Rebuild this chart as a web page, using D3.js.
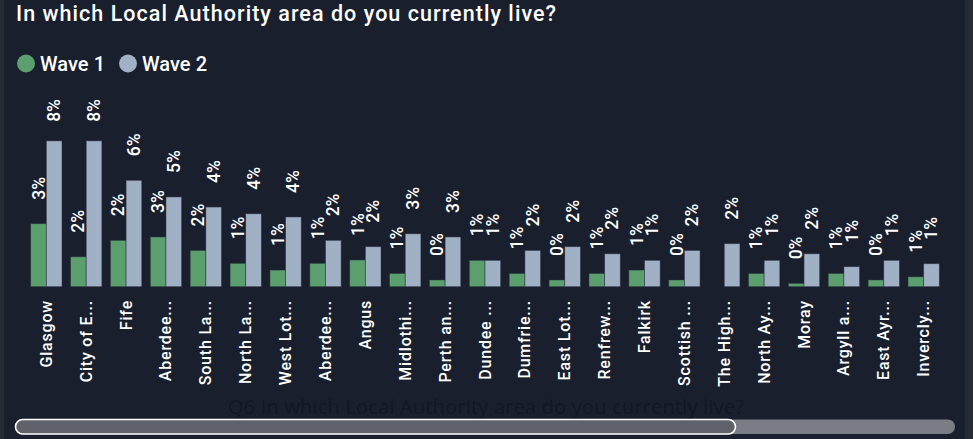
<!DOCTYPE html>
<html><head><meta charset="utf-8">
<script src="https://cdn.jsdelivr.net/npm/d3@7"></script>
<style>
html,body{margin:0;padding:0;background:#1a1f2e;overflow:hidden;}
svg{display:block;}
</style></head>
<body>
<svg id="chart" width="973" height="439"></svg>
<script>
const title = "In which Local Authority area do you currently live?";
const axisTitle = "Q6 In which Local Authority area do you currently live?";
const categories = ["Glasgow","City of Edinburgh","Fife","Aberdeen City","South Lanarkshire","North Lanarkshire","West Lothian","Aberdeenshire","Angus","Midlothian","Perth and Kinross","Dundee City","Dumfries and Galloway","East Lothian","Renfrewshire","Falkirk","Scottish Borders","The Highlands","North Ayrshire","Moray","Argyll and Bute","East Ayrshire","Inverclyde"];
const tickLabels = ["Glasgow","City of E...","Fife","Aberdee...","South La...","North La...","West Lot...","Aberdee...","Angus","Midlothi...","Perth an...","Dundee ...","Dumfrie...","East Lot...","Renfrew...","Falkirk","Scottish ...","The High...","North Ay...","Moray","Argyll a...","East Ayr...","Invercly..."];
const seriesNames = ["Wave 1","Wave 2"];
const wave1 = [3.37,1.6,2.48,2.66,1.94,1.25,0.89,1.25,1.43,0.71,0.36,1.41,0.71,0.36,0.71,0.89,0.36,null,0.71,0.18,0.71,0.36,0.53];
const wave2 = [7.8,7.8,5.69,4.8,4.26,3.9,3.73,2.48,2.14,2.83,2.66,1.41,1.94,2.14,1.76,1.41,1.94,2.3,1.41,1.76,1.07,1.41,1.23];
const colors = ["#5b9f6f","#a0b0c5"];

const svg = d3.select("#chart");
const W = 973, H = 439;

// side strips
svg.append("rect").attr("x",0).attr("y",0).attr("width",4).attr("height",H).attr("fill","#262a35");
svg.append("rect").attr("x",965).attr("y",0).attr("width",8).attr("height",H).attr("fill","#262a34");

// title
svg.append("text").attr("x",16).attr("y",20.5)
  .attr("font-family","Roboto, sans-serif").attr("font-size",21.5).attr("font-weight",500)
  .attr("textLength",540).attr("lengthAdjust","spacing")
  .attr("fill","#ffffff").text(title);

// legend
const legend = svg.append("g");
const legX = [26,128];
seriesNames.forEach((s,i)=>{
  legend.append("circle").attr("cx",legX[i]).attr("cy",63.5).attr("r",9).attr("fill",colors[i]);
  legend.append("text").attr("x",legX[i]+14).attr("y",70.5)
    .attr("font-family","Roboto, sans-serif").attr("font-size",20).attr("font-weight",500)
    .attr("textLength",65).attr("lengthAdjust","spacing")
    .attr("fill","#ffffff").text(s);
});

// scales
const x = d3.scaleBand().domain(categories).range([26.4,943.6]).paddingInner(0.215).paddingOuter(0.1075);
const xs = d3.scaleBand().domain(seriesNames).range([0,x.bandwidth()]);
const y = d3.scaleLinear().domain([0,8]).range([286.7,137.1]);

const data = categories.map((c,i)=>({cat:c, vals:[wave1[i],wave2[i]]}));

const groups = svg.append("g").selectAll("g").data(data).join("g")
  .attr("transform",d=>`translate(${x(d.cat)},0)`);

groups.selectAll("rect").data(d=>d.vals.map((v,i)=>({v,s:seriesNames[i],i}))).join("rect")
  .filter(d=>d.v!==null)
  .attr("x",d=>xs(d.s)).attr("width",xs.bandwidth())
  .attr("y",d=>y(d.v)).attr("height",d=>y(0)-y(d.v))
  .attr("fill",d=>colors[d.i])
  .attr("stroke","rgba(40,45,60,0.6)").attr("stroke-width",0.8);

const labelTop = 99;
groups.selectAll("text.lbl").data(d=>d.vals.map((v,i)=>({v,s:seriesNames[i],i}))).join("text")
  .filter(d=>d.v!==null)
  .attr("class","lbl")
  .attr("font-family","Roboto, sans-serif").attr("font-size",17.5).attr("font-weight",500)
  .attr("fill","#ffffff").attr("dominant-baseline","central")
  .text(d=>d3.format(".0f")(d.v)+"%")
  .each(function(d){
    const len = this.getComputedTextLength();
    let yy = y(d.v) - 24;
    if (yy - len < labelTop) yy = labelTop + len;
    const xx = xs(d.s) + xs.bandwidth()/2;
    d3.select(this).attr("transform",`translate(${xx},${yy}) rotate(-90)`);
  });

// x axis
const xAxis = d3.axisBottom(x).tickSize(0).tickPadding(0).tickFormat((d,i)=>tickLabels[i]);
const ax = svg.append("g").attr("transform","translate(0,300)").call(xAxis);
ax.select(".domain").remove();
ax.selectAll("text")
  .attr("font-family","Roboto, sans-serif").attr("font-size",16).attr("font-weight",500)
  .attr("letter-spacing","0.8px")
  .attr("fill","#ffffff")
  .attr("text-anchor","end").attr("dy",null).attr("y",null)
  .attr("dominant-baseline","central")
  .attr("transform","rotate(-90)");

// faded axis title
svg.append("text").attr("x",486).attr("y",414).attr("text-anchor","middle")
  .attr("font-family","Open Sans, sans-serif").attr("font-size",20)
  .attr("textLength",516).attr("lengthAdjust","spacing")
  .attr("fill","#131722").text(axisTitle);

// scrollbar
svg.append("rect").attr("x",15).attr("y",419.5).attr("width",940).attr("height",14.5).attr("rx",7.25)
  .attr("fill","#7a7d86");
svg.append("rect").attr("x",15.5).attr("y",419.5).attr("width",720).attr("height",14.5).attr("rx",7.25)
  .attr("fill","#5f626a").attr("stroke","#ffffff").attr("stroke-width",1.5);
</script>
</body></html>
